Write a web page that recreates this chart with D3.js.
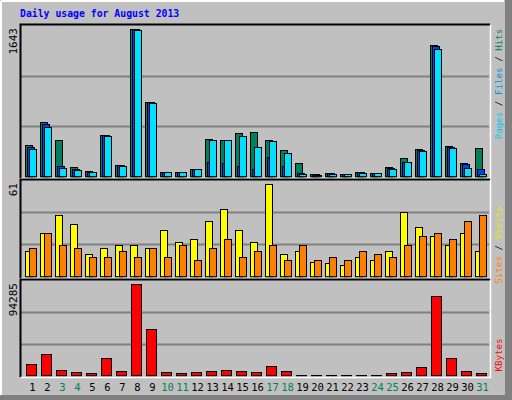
<!DOCTYPE html>
<html><head><meta charset="utf-8">
<script src="https://cdn.jsdelivr.net/npm/d3@7"></script>
<style>body{margin:0;background:#fff}svg{display:block}</style>
</head><body>
<script>
const days = d3.range(1, 32);
const weekend = [3,4,10,11,17,18,24,25,31];
const hits  = [353,610,409,108,63,465,130,1643,833,52,52,86,420,409,487,498,409,298,153,30,40,30,52,42,108,208,309,1470,342,153,320];
const files = [331,587,119,86,57,461,126,1643,828,50,50,86,165,153,119,86,220,119,42,25,37,28,48,40,100,165,300,1459,335,142,86];
const pages = [309,554,97,75,52,454,119,1640,822,48,48,86,409,409,454,331,398,264,30,20,30,25,42,37,86,165,287,1425,320,97,30];
const sites  = [17,29,41,35,15,19,21,21,19,31,23,25,37,45,31,23,61,15,17,10,9,8,13,11,17,43,33,27,21,29,17];
const visits = [19,29,21,19,13,13,17,13,19,13,21,11,19,25,13,17,21,11,21,11,13,11,17,15,13,21,27,29,25,37,41];
const kbytes = [11700,22000,5500,3400,2400,17900,4500,94285,47800,3400,2400,3400,4500,5500,4500,3400,9600,4500,1000,1000,1000,1000,1000,1000,2400,3400,8600,81900,17900,4500,2400];
const maxLabels = ["1643","61","94285"];

const W=512,H=400;
const svg=d3.select("body").append("svg").attr("width",W).attr("height",H);
const font="'DejaVu Sans Mono', monospace";
svg.append("rect").attr("width",W).attr("height",H).attr("fill","#C0C0C0");
svg.append("rect").attr("x",505).attr("y",0).attr("width",7).attr("height",H).attr("fill","#808080");
svg.append("rect").attr("x",0).attr("y",395).attr("width",W).attr("height",5).attr("fill","#808080");
svg.append("line").attr("x1",1).attr("y1",1).attr("x2",504).attr("y2",1).attr("stroke","#fff").attr("stroke-width",2);
svg.append("line").attr("x1",1).attr("y1",1).attr("x2",1).attr("y2",395).attr("stroke","#fff").attr("stroke-width",2);

svg.append("text").attr("x",20).attr("y",17).text("Daily usage for August 2013")
  .attr("font-family",font).attr("font-weight","bold").attr("font-size",9.8).attr("fill","#0000FF");

const x = d3.scaleBand().domain(days).range([24,489]).paddingInner(0);
const panels=[
 {top:25,bot:178,base:176.7,hmax:147.4,max:1643},
 {top:180,bot:278,base:276.7,hmax:92.4,max:61},
 {top:280,bot:377,base:375.7,hmax:91.4,max:94285}
];
panels.forEach((p,i)=>{
  svg.append("rect").attr("x",21).attr("y",p.top).attr("width",469).attr("height",p.bot-p.top).attr("fill","#C0C0C0");
  const g=(p.base-p.top)/3;
  [1,2].forEach(k=>svg.append("line").attr("x1",21).attr("x2",489).attr("y1",Math.round(p.base-g*k)+0.5).attr("y2",Math.round(p.base-g*k)+0.5).attr("stroke","#808080").attr("stroke-width",2));
  svg.append("path").attr("d",`M20.5,${p.bot}V${p.top-0.5}H490`).attr("fill","none").attr("stroke","#000").attr("stroke-width",2);
  svg.append("path").attr("d",`M21,${p.bot+0.5}H490.5V${p.top}`).attr("fill","none").attr("stroke","#fff").attr("stroke-width",1.5);
  p.y=d3.scaleLinear().domain([0,p.max]).range([p.base,p.base-p.hmax]);
  svg.append("text").attr("transform",`translate(17,${p.top+3}) rotate(-90)`).attr("text-anchor","end")
    .text(maxLabels[i]).attr("font-family",font).attr("font-size",11).attr("fill","#000");
});

function bars(data,p,off,w,color){
  svg.append("g").selectAll("rect").data(data).join("rect")
    .attr("x",(v,i)=>x(days[i])+off+0.5).attr("width",w)
    .attr("y",v=>Math.round(p.y(v))+0.5).attr("height",v=>Math.max(0,p.base-Math.round(p.y(v))-0.5))
    .attr("fill",color).attr("stroke","#000").attr("stroke-width",1);
}
bars(hits,panels[0],1,7,"#00805C");
bars(files,panels[0],3,7,"#0040FF");
bars(pages,panels[0],5,7,"#00E0FF");
bars(sites,panels[1],1,7,"#FFFF00");
bars(visits,panels[1],5,7,"#FF8000");
bars(kbytes,panels[2],2,10,"#FF0000");

svg.append("g").selectAll("text").data(days).join("text")
  .attr("x",d=>x(d)+x.bandwidth()/2+1).attr("y",391).attr("text-anchor","middle")
  .attr("font-family",font).attr("font-size",10.5)
  .attr("fill",d=>weekend.includes(d)?"#00805C":"#000").text(d=>d);

function sideLabel(parts,cy){
  const t=svg.append("text").attr("transform",`translate(502,${cy}) rotate(-90)`).attr("text-anchor","middle")
    .attr("font-family",font).attr("font-size",9.2);
  parts.forEach(([s,c])=>t.append("tspan").attr("fill",c).text(s));
}
sideLabel([["Pages","#00C8E8"],[" / ","#000"],["Files","#0090D0"],[" / ","#000"],["Hits","#00805C"]],84);
sideLabel([["Sites","#FF8000"],[" / ","#000"],["Visits","#E8E800"]],245);
sideLabel([["KBytes","#FF0000"]],355);
</script>
</body></html>
